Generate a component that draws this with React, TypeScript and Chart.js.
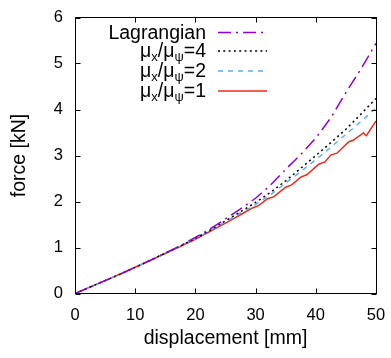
import React, { useEffect, useRef } from "react";
import { Chart, registerables } from "chart.js";

Chart.register(...registerables);

// ---- data ----
const dispCommon = [0, 2.5, 5, 7.5, 10, 12.5, 15, 17.5, 20, 22.5, 25, 27.5, 30, 32.5, 35, 37.5, 40, 42.5, 45, 47.5, 50];
const forceLagrangian = [0, 0.14, 0.28, 0.42, 0.57, 0.72, 0.88, 1.04, 1.22, 1.41, 1.62, 1.84, 2.07, 2.36, 2.7, 3.02, 3.38, 3.82, 4.37, 4.88, 5.44];
const forceRatio4 = [0, 0.14, 0.28, 0.42, 0.57, 0.72, 0.88, 1.03, 1.2, 1.38, 1.58, 1.78, 1.98, 2.2, 2.45, 2.72, 3.0, 3.28, 3.57, 3.9, 4.24];
const forceRatio2 = [0, 0.14, 0.28, 0.42, 0.57, 0.72, 0.87, 1.03, 1.19, 1.37, 1.56, 1.75, 1.93, 2.15, 2.4, 2.65, 2.91, 3.18, 3.46, 3.74, 4.03];
const dispRatio1 = [0, 5, 10, 15, 20, 25, 28, 29.5, 30.5, 32, 33, 35, 36, 37.5, 38.5, 40.5, 41.5, 42.5, 43.5, 45.5, 46.2, 47.9, 48.4, 50];
const forceRatio1 = [0, 0.28, 0.57, 0.87, 1.18, 1.53, 1.75, 1.86, 1.91, 2.06, 2.1, 2.31, 2.36, 2.53, 2.58, 2.81, 2.86, 3.01, 3.05, 3.3, 3.33, 3.49, 3.43, 3.75];

const xTickValues = [0, 10, 20, 30, 40, 50];
const yTickValues = [0, 1, 2, 3, 4, 5, 6];

// labels: "_c" marks a one-character subscript
const seriesLabels = ["Lagrangian", "μ_x/μ_ψ=4", "μ_x/μ_ψ=2", "μ_x/μ_ψ=1"];
const xTitle = "displacement [mm]";
const yTitle = "force [kN]";

const FONT = "'Liberation Sans', Arial, Helvetica, sans-serif";
const colors = ["#9400d3", "#000000", "#56b4e9", "#ee2a1a"];
const dashes = [[13, 5, 2, 5], [2, 3.3], [5, 5], []];

function toPoints(xs: number[], ys: number[]) {
  return xs.map((x, i) => ({ x, y: ys[i] }));
}

function splitLabel(label: string) {
  const parts: { t: string; sub: boolean }[] = [];
  let buf = "";
  for (let i = 0; i < label.length; i++) {
    if (label[i] === "_" && i + 1 < label.length) {
      if (buf) parts.push({ t: buf, sub: false });
      buf = "";
      parts.push({ t: label[i + 1], sub: true });
      i++;
    } else buf += label[i];
  }
  if (buf) parts.push({ t: buf, sub: false });
  return parts;
}

const framePlugin = {
  id: "gnuFrame",
  afterDatasetsDraw(chart: any) {
    const { ctx, chartArea: a, scales } = chart;
    const xs = scales.x;
    const ys = scales.y;
    const L = Math.floor(a.left) + 0.5;
    const R = Math.floor(a.right) + 0.5;
    const T = Math.floor(a.top) + 0.5;
    const B = Math.floor(a.bottom) + 0.5;
    const tl = 5;
    ctx.save();
    ctx.setLineDash([]);
    ctx.strokeStyle = "#000";
    ctx.lineWidth = 1;
    ctx.beginPath();
    for (const v of xTickValues) {
      const p = Math.round(xs.getPixelForValue(v)) + 0.5;
      ctx.moveTo(p, B); ctx.lineTo(p, B - tl);
      ctx.moveTo(p, T); ctx.lineTo(p, T + tl);
    }
    for (const v of yTickValues) {
      const p = Math.round(ys.getPixelForValue(v)) + 0.5;
      ctx.moveTo(L, p); ctx.lineTo(L + tl, p);
      ctx.moveTo(R, p); ctx.lineTo(R - tl, p);
    }
    ctx.stroke();
    ctx.strokeRect(L, T, R - L, B - T);

    // legend
    const textRight = 206;
    const sampleX0 = 218;
    const sampleX1 = 267;
    const baselines = [38.5, 57, 77, 97];
    const mainFont = `19.5px ${FONT}`;
    const subFont = `13px ${FONT}`;
    ctx.fillStyle = "#000";
    ctx.textBaseline = "alphabetic";
    ctx.textAlign = "left";
    seriesLabels.forEach((lab, i) => {
      const parts = splitLabel(lab);
      let total = 0;
      const widths = parts.map((p) => {
        ctx.font = p.sub ? subFont : mainFont;
        const w = ctx.measureText(p.t).width;
        total += w;
        return w;
      });
      let x = textRight - total;
      parts.forEach((p, k) => {
        ctx.font = p.sub ? subFont : mainFont;
        ctx.fillText(p.t, x, baselines[i] + (p.sub ? 4 : 0));
        x += widths[k];
      });
      const ly = baselines[i] - 6;
      ctx.beginPath();
      ctx.strokeStyle = colors[i];
      ctx.lineWidth = 1.5;
      ctx.setLineDash(dashes[i]);
      ctx.moveTo(sampleX0, ly);
      ctx.lineTo(sampleX1, ly);
      ctx.stroke();
    });
    ctx.restore();
  },
};

export default function App() {
  const ref = useRef<HTMLCanvasElement | null>(null);
  useEffect(() => {
    document.body.style.margin = "0";
    if (!ref.current) return;
    const seriesData = [
      toPoints(dispCommon, forceLagrangian),
      toPoints(dispCommon, forceRatio4),
      toPoints(dispCommon, forceRatio2),
      toPoints(dispRatio1, forceRatio1),
    ];
    const chart = new Chart(ref.current, {
      type: "line",
      data: {
        datasets: seriesData.map((d, i) => ({
          label: seriesLabels[i],
          data: d,
          borderColor: colors[i],
          borderWidth: 1.5,
          borderDash: dashes[i],
          pointRadius: 0,
          fill: false,
          tension: 0,
        })),
      },
      options: {
        animation: false,
        responsive: false,
        devicePixelRatio: 1,
        layout: { padding: { left: 0, right: 15, top: 17.5, bottom: 0 } },
        plugins: { legend: { display: false }, tooltip: { enabled: false } },
        scales: {
          x: {
            type: "linear",
            min: 0,
            max: 50,
            afterFit: (s: any) => { s.height = 64.5; s.paddingLeft = 0; s.paddingRight = 0; },
            afterBuildTicks: (s: any) => { s.ticks = xTickValues.map((v) => ({ value: v })); },
            grid: { display: false, drawTicks: false },
            border: { display: false },
            ticks: { color: "#000", font: { family: FONT, size: 16.5 }, padding: 12, maxRotation: 0 },
            title: { display: true, text: xTitle, color: "#000", font: { family: FONT, size: 19.5 }, padding: { top: 0, bottom: 8 } },
          },
          y: {
            type: "linear",
            min: 0,
            max: 6,
            afterFit: (s: any) => { s.width = 75; s.paddingTop = 0; s.paddingBottom = 0; },
            afterBuildTicks: (s: any) => { s.ticks = yTickValues.map((v) => ({ value: v })); },
            grid: { display: false, drawTicks: false },
            border: { display: false },
            ticks: { color: "#000", font: { family: FONT, size: 16.5 }, padding: 12 },
            title: { display: true, text: yTitle, color: "#000", font: { family: FONT, size: 19.5 }, padding: { top: 8, bottom: 0 } },
          },
        },
      },
      plugins: [framePlugin],
    } as any);
    return () => chart.destroy();
  }, []);
  return (
    <div style={{ width: 391, height: 358 }}>
      <canvas ref={ref} width={391} height={358} style={{ display: "block" }} />
    </div>
  );
}
